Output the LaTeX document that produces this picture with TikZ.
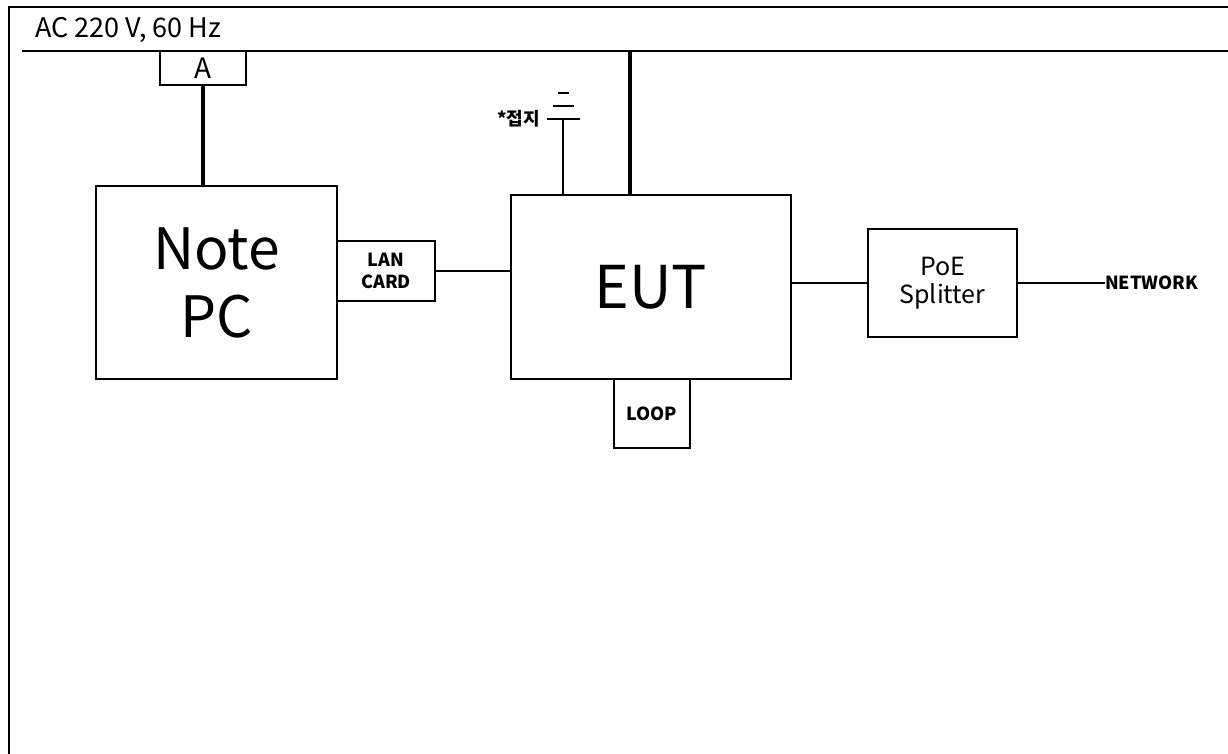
\documentclass[tikz,border=0pt]{standalone}
\usepackage{fontspec}
\setmainfont{Noto Sans CJK KR}
\usepackage{tikz}
\usetikzlibrary{positioning}

\begin{document}
\begin{tikzpicture}[
  x=1pt, y=-1pt,
  thin line/.style={line width=1.5pt},
  power/.style={line width=4pt},
  box/.style={draw, line width=1.5pt, rectangle, align=center, inner sep=0pt},
  small/.style={font=\fontsize{18}{22}\selectfont\bfseries}
]
\useasboundingbox (0,0) rectangle (1228,754);
% frame
\draw[line width=2pt] (9,754) -- (9,7) -- (1228,7);

% mains
\node[anchor=base west, inner sep=0pt, font=\fontsize{27}{30}\selectfont] (mains) at (35,38) {AC 220 V, 60 Hz};
\coordinate (mainsL) at (22,51);
\coordinate (mainsR) at (1228,51);
\coordinate (tap) at (630,51);
\draw[thin line] (mainsL) -- (mainsR);

% boxes
\node[box, minimum width=86pt, minimum height=34pt, font=\fontsize{28}{30}\selectfont] (adapter) at (203,68) {A};
\node[box, font=\fontsize{57}{68}\selectfont, minimum width=241pt, minimum height=193pt] (notepc) at (216.5,282.5) {Note\\PC};
\node[box, small, minimum width=98pt, minimum height=60pt] (lan) at (386,271) {LAN\\CARD};
\node[box, font=\fontsize{59}{64}\selectfont, minimum width=280pt, minimum height=184pt] (eut) at (651,287) {EUT};
\node[box, small, minimum width=76pt, minimum height=69pt] (loop) at (652,413.5) {LOOP};
\node[box, font=\fontsize{25}{28}\selectfont, minimum width=149pt, minimum height=108pt] (poe) at (942.5,283) {PoE\\Splitter};
\node[small, anchor=west, inner sep=0pt] (net) at (1105,283) {NETWORK};

% ground
\coordinate (gnd) at (563,119);
\node[small, anchor=east, inner sep=0pt] (gndlabel) at (540,119) {*접지};
\draw[thin line] (gnd |- eut.north) -- (gnd);
\draw[thin line] (547,119) -- (580,119);
\draw[thin line] (553,106) -- (574,106);
\draw[thin line] (558,93) -- (569,93);

% connections
\draw[power] (adapter.south) -- (adapter.south |- notepc.north);
\draw[power] (tap) -- (tap |- eut.north);
\draw[thin line] (lan.east) -- (lan.east -| eut.west);
\draw[thin line] (poe.west -| eut.east) -- (poe.west);
\draw[thin line] (poe.east) -- (net.west);
\end{tikzpicture}
\end{document}
